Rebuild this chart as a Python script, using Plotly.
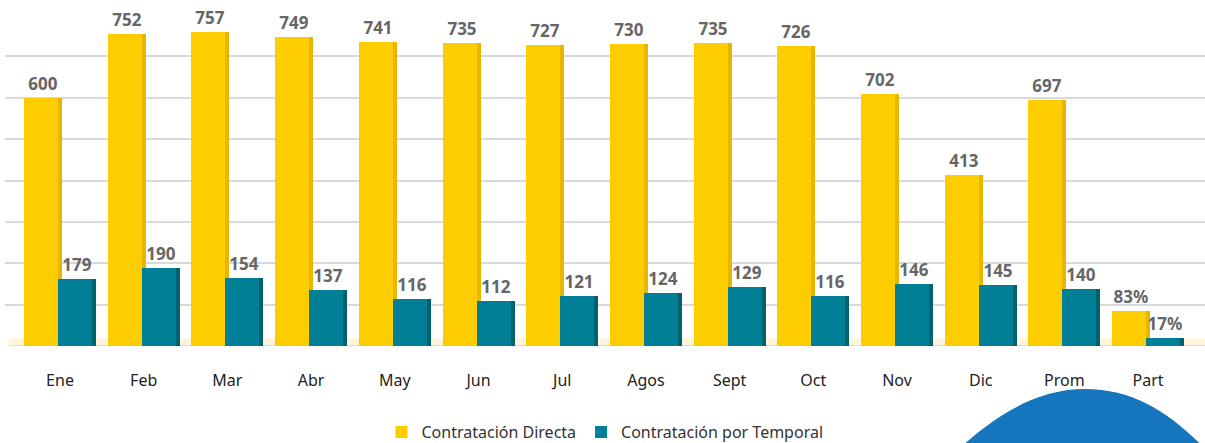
import plotly.graph_objects as go

categories = ["Ene", "Feb", "Mar", "Abr", "May", "Jun", "Jul", "Agos", "Sept", "Oct", "Nov", "Dic", "Prom", "Part"]
# values as labelled in the chart
directa_labels = ["600", "752", "757", "749", "741", "735", "727", "730", "735", "726", "702", "413", "697", "83%"]
temporal_labels = ["179", "190", "154", "137", "116", "112", "121", "124", "129", "116", "146", "145", "140", "17%"]
# bar heights as drawn in the chart
directa_heights = [600, 753, 758, 746, 734, 732, 727, 730, 732, 725, 609, 413, 594, 85]
temporal_heights = [162, 188, 164, 135, 113, 109, 121, 128, 143, 121, 150, 147, 138, 20]

YEL = "#FDCD00"
YEL_D = "#E8B500"
TEAL = "#007F96"
TEAL_D = "#00626F"
FONT = "Noto Sans"

cw = 83.7  # px per category
w = 38 / cw
edge = 4 / cw
r0 = -55 / cw
r1 = r0 + 1200 / cw

fig = go.Figure()
fig.add_trace(go.Bar(
    x=categories, y=directa_heights, name="Contratación Directa",
    marker=dict(color=YEL, line=dict(width=0)), width=w, offset=-36 / cw,
    text=directa_labels, textposition="outside", cliponaxis=False, constraintext="none",
    textfont=dict(family=FONT, size=17, color="#666666", weight="bold"),
))
fig.add_trace(go.Bar(
    x=categories, y=directa_heights, showlegend=False, hoverinfo="skip",
    marker=dict(color=YEL_D, line=dict(width=0)), width=edge, offset=-2 / cw,
))
fig.add_trace(go.Bar(
    x=categories, y=temporal_heights, name="Contratación por Temporal",
    marker=dict(color=TEAL, line=dict(width=0)), width=w, offset=-2 / cw,
    text=temporal_labels, textposition="outside", cliponaxis=False, constraintext="none",
    textfont=dict(family=FONT, size=17, color="#666666", weight="bold"),
))
fig.add_trace(go.Bar(
    x=categories, y=temporal_heights, showlegend=False, hoverinfo="skip",
    marker=dict(color=TEAL_D, line=dict(width=0)), width=edge, offset=32 / cw,
))

shapes = [
    # floor
    dict(type="path", xref="paper", yref="y", layer="between",
         path="M 0.0,-17 L 0.004,19 L 1,19 L 1,-17 Z",
         fillcolor="#FEF5DB", line=dict(width=0)),
    dict(type="line", xref="paper", yref="y", x0=0.004, x1=1, y0=0, y1=0,
         layer="between", line=dict(color="#DDDDDD", width=2)),
    # decorative blob
    dict(type="path", xref="paper", yref="paper", layer="above",
         path="M 0.795,-0.31 C 0.82,-0.23 0.855,-0.13 0.9,-0.13 C 0.94,-0.13 0.97,-0.20 1.0,-0.31 Z",
         fillcolor="#1576BE", line=dict(width=0)),
]

fig.update_layout(
    width=1205, height=443,
    margin=dict(l=5, r=0, t=15, b=97, autoexpand=False),
    paper_bgcolor="white", plot_bgcolor="white",
    barmode="overlay", bargap=0,
    font=dict(family=FONT, size=16, color="#222222"),
    showlegend=True,
    legend=dict(orientation="h", x=0.5, xanchor="center", y=-0.26, yanchor="middle",
                font=dict(family=FONT, size=16, color="#333333"), itemwidth=30,
                bgcolor="rgba(0,0,0,0)"),
    shapes=shapes,
    xaxis=dict(range=[r0, r1], showgrid=False, zeroline=False, showline=False,
               ticks="outside", ticklen=20, tickcolor="rgba(0,0,0,0)",
               tickfont=dict(family=FONT, size=16, color="#222222")),
    yaxis=dict(range=[0, 800], dtick=100, showticklabels=False, showgrid=True,
               gridcolor="#D9D9D9", gridwidth=1.5, zeroline=False, showline=False),
)

fig.write_html("out.html", config={"displayModeBar": False},
               post_script="document.body.style.margin='0';document.body.style.overflow='hidden';")
